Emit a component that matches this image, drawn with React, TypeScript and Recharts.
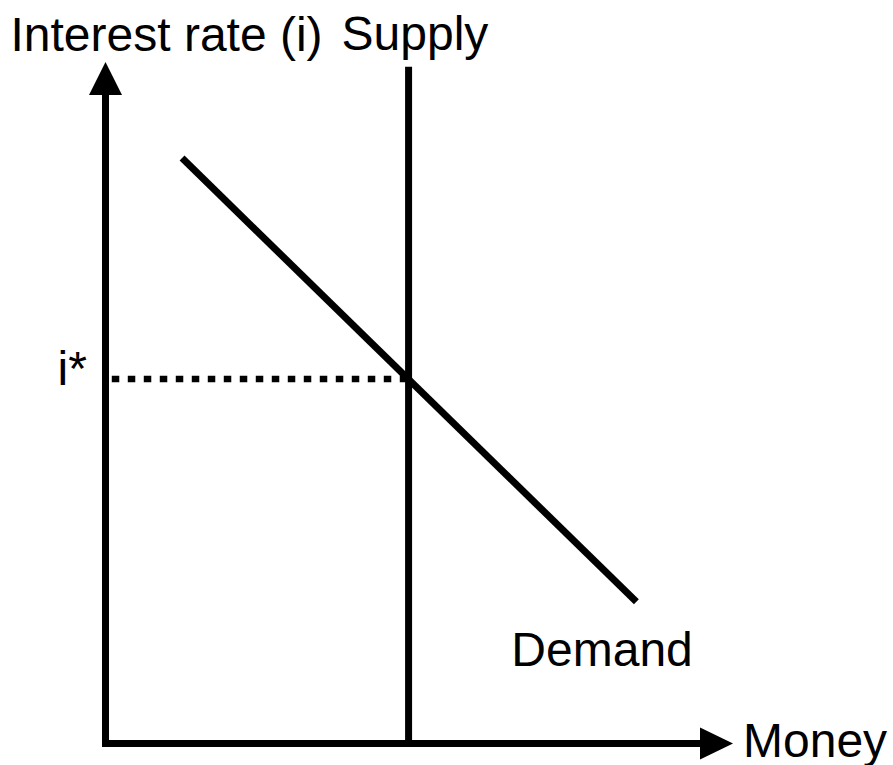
import { ComposedChart, Line, ReferenceDot, XAxis, YAxis } from "recharts";

// everything is in plain "diagram units": 0..10 on both axes
const axisPath = [
  { x: 0, y: 9.52 },
  { x: 0, y: 0 },
  { x: 9.48, y: 0 },
];
const supplyX = 4.83;
const supplyTop = 9.93;
const iStar = 5.35;
const supply = [
  { x: supplyX, y: 0 },
  { x: supplyX, y: supplyTop },
];
const demand = [
  { x: 1.22, y: 8.59 },
  { x: 8.46, y: 2.08 },
];
const iStarGuide = [
  { x: 0.1, y: iStar },
  { x: supplyX, y: iStar },
];

const FONT = "'Liberation Sans', Arial, sans-serif";

function ArrowUp(props: any) {
  const { cx, cy } = props;
  return (
    <polygon
      points={`${cx},${cy} ${cx - 16.5},${cy + 33} ${cx + 16.5},${cy + 33}`}
      fill="#000"
    />
  );
}

function ArrowRight(props: any) {
  const { cx, cy } = props;
  return (
    <polygon
      points={`${cx},${cy} ${cx - 33},${cy - 16} ${cx - 33},${cy + 16}`}
      fill="#000"
    />
  );
}

function textAt(text: string, dx: number, dy: number) {
  return (props: any) => (
    <text
      x={props.cx + dx}
      y={props.cy + dy}
      fontFamily={FONT}
      fontSize={48}
      fill="#000"
    >
      {text}
    </text>
  );
}

export default function App() {
  return (
    <div style={{ position: "absolute", left: 0, top: 0, background: "#fff" }}>
      <ComposedChart
        width={893}
        height={765}
        margin={{ top: 62, right: 160, bottom: 21.5, left: 105.5 }}
      >
        <XAxis type="number" dataKey="x" domain={[0, 10]} hide />
        <YAxis type="number" dataKey="y" domain={[0, 10]} hide />

        <Line
          data={axisPath}
          dataKey="y"
          type="linear"
          stroke="#000"
          strokeWidth={7}
          strokeLinejoin="miter"
          dot={false}
          activeDot={false}
          isAnimationActive={false}
        />
        <Line
          data={iStarGuide}
          dataKey="y"
          type="linear"
          stroke="#000"
          strokeWidth={6.5}
          strokeDasharray="7.5 8.5"
          dot={false}
          activeDot={false}
          isAnimationActive={false}
        />
        <Line
          data={supply}
          dataKey="y"
          type="linear"
          stroke="#000"
          strokeWidth={7}
          dot={false}
          activeDot={false}
          isAnimationActive={false}
        />
        <Line
          data={demand}
          dataKey="y"
          type="linear"
          stroke="#000"
          strokeWidth={7}
          dot={false}
          activeDot={false}
          isAnimationActive={false}
        />

        <ReferenceDot x={0} y={10} ifOverflow="visible" shape={ArrowUp} />
        <ReferenceDot x={10} y={0} ifOverflow="visible" shape={ArrowRight} />

        <ReferenceDot x={0} y={10} ifOverflow="visible" shape={textAt("Interest rate (i)", -95, -11)} />
        <ReferenceDot x={supplyX} y={supplyTop} ifOverflow="visible" shape={textAt("Supply", -67, -17)} />
        <ReferenceDot x={0} y={iStar} ifOverflow="visible" shape={textAt("i*", -48, 6)} />
        <ReferenceDot x={demand[1].x} y={demand[1].y} ifOverflow="visible" shape={textAt("Demand", -125, 64)} />
        <ReferenceDot x={10} y={0} ifOverflow="visible" shape={textAt("Money", 10, 13.5)} />
      </ComposedChart>
    </div>
  );
}
